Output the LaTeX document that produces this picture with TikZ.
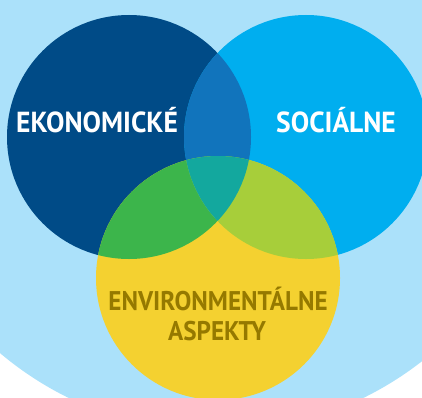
\documentclass[tikz,border=0pt]{standalone}
\usepackage{fontspec}
\setmainfont{PT Sans}
\newfontfamily\toplblfont{PT Sans}[FakeStretch=0.95]
\newfontfamily\envlblfont{PT Sans}[FakeStretch=0.93]
\definecolor{bgblue}{HTML}{ABE1FA}
\definecolor{ecoblue}{HTML}{004B87}
\definecolor{socblue}{HTML}{00AEEF}
\definecolor{esmix}{HTML}{1174BC}
\definecolor{envyellow}{HTML}{F4D130}
\definecolor{eemix}{HTML}{3CB54B}
\definecolor{semix}{HTML}{A7CE3A}
\definecolor{allmix}{HTML}{13A89E}
\definecolor{envtext}{HTML}{957900}
\tikzset{
  toplbl/.style={font=\toplblfont\bfseries\fontsize{29}{32}\selectfont, inner sep=0pt, text=white, anchor=base},
  envlbl/.style={font=\envlblfont\bfseries\fontsize{27}{30}\selectfont, inner sep=0pt, text=envtext, anchor=base},
}
\begin{document}
\begin{tikzpicture}[x=1pt,y=1pt]
\useasboundingbox (0,0) rectangle (422,397);
\begin{scope}
  \clip (0,0) rectangle (422,397);
  \fill[bgblue] (216,300) circle[radius=335];
\end{scope}
\coordinate (ceco) at (129,260);
\coordinate (csoc) at (306,260);
\coordinate (cenv) at (218,119);
\fill[ecoblue] (ceco) circle[radius=122];
\fill[socblue] (csoc) circle[radius=122];
\fill[envyellow] (cenv) circle[radius=122];
\begin{scope}
  \clip (ceco) circle[radius=122];
  \fill[esmix] (csoc) circle[radius=122];
  \fill[eemix] (cenv) circle[radius=122];
\end{scope}
\begin{scope}
  \clip (csoc) circle[radius=122];
  \fill[semix] (cenv) circle[radius=122];
  \clip (ceco) circle[radius=122];
  \fill[allmix] (cenv) circle[radius=122];
\end{scope}
\node[toplbl] (teco) at (97,265) {EKONOMICKÉ};
\node[toplbl] (tsoc) at (336,265) {SOCIÁLNE};
\node[envlbl] (tenv1) at (218,87) {ENVIRONMENTÁLNE};
\node[envlbl] (tenv2) at (217,57) {ASPEKTY};
\end{tikzpicture}
\end{document}
